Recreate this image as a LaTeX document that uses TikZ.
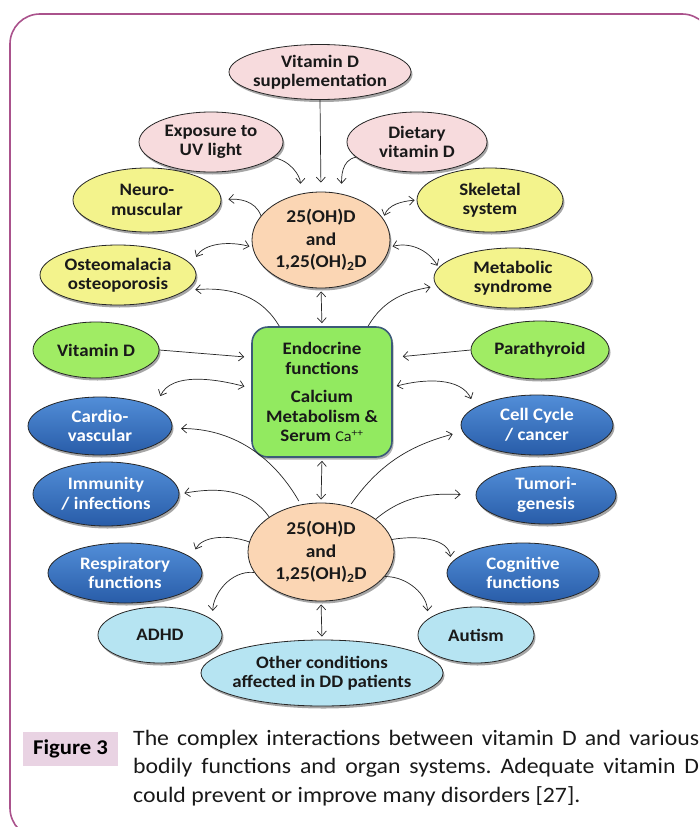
\documentclass[tikz,border=0pt]{standalone}
\usepackage{fontspec}
\setmainfont[FakeStretch=1.08]{Carlito}
\usetikzlibrary{shapes.geometric,arrows.meta,shadows}
\definecolor{pinkf}{RGB}{247,219,221}
\definecolor{yellowf}{RGB}{243,243,140}
\definecolor{peachf}{RGB}{251,214,180}
\definecolor{greenb}{RGB}{146,234,96}
\definecolor{greene}{RGB}{160,236,100}
\definecolor{bluet}{RGB}{82,142,216}
\definecolor{blueb}{RGB}{40,92,168}
\definecolor{lbluef}{RGB}{182,228,242}
\definecolor{boxline}{RGB}{60,90,120}
\definecolor{framec}{RGB}{170,82,140}
\definecolor{figbox}{RGB}{233,211,227}
\frenchspacing
\begin{document}
\begin{tikzpicture}[x=1pt,y=-1pt,
  ell/.style={ellipse, draw=black!85, line width=0.8pt, inner sep=0pt,
    drop shadow={shadow xshift=1.5pt,shadow yshift=-2.5pt,opacity=.35,fill=black}},
  txt/.style={align=center, inner sep=0pt, text=black!90,
    font=\bfseries\fontsize{17.5}{19.5}\selectfont},
  wtxt/.style={txt, text=white},
  ctxt/.style={txt, font=\bfseries\fontsize{18}{22.5}\selectfont},
  pinkn/.style={ell, fill=pinkf},
  yelln/.style={ell, fill=yellowf},
  peachn/.style={ell, fill=peachf},
  greenn/.style={ell, fill=greene},
  bluen/.style={ell, top color=bluet, bottom color=blueb, draw=black!85},
  lbluen/.style={ell, fill=lbluef},
  arr/.style={line width=0.7pt, black!85, -{Straight Barb[length=5pt,width=9pt]}},
  darr/.style={line width=0.7pt, black!85, {Straight Barb[length=5pt,width=9pt]}-{Straight Barb[length=5pt,width=9pt]}}
]
\useasboundingbox (0,0) rectangle (699,827);
\fill[white] (0,0) rectangle (699,827);
\begin{scope}
\clip (0,0) rectangle (699,827);
\draw[framec, line width=1.6pt, rounded corners=30pt] (10,14) rectangle (712,838);
\end{scope}

% nodes
\node[pinkn, minimum width=182, minimum height=55] (supp) at (320,72) {};
\node[txt] (supp-t) at (supp) {Vitamin D\\supplementation};
\node[pinkn, minimum width=144, minimum height=60] (uv) at (211,142) {};
\node[txt] (uv-t) at (uv) {Exposure to\\UV light};
\node[pinkn, minimum width=140, minimum height=60] (diet) at (417,142) {};
\node[txt] (diet-t) at (diet) {Dietary\\vitamin D};
\node[yelln, minimum width=148, minimum height=64] (neuro) at (147,200) {};
\node[txt] (neuro-t) at (neuro) {Neuro-\\muscular};
\node[yelln, minimum width=146, minimum height=64] (skel) at (490,200) {};
\node[txt] (skel-t) at (skel) {Skeletal\\system};
\node[peachn, minimum width=138, minimum height=96] (c1) at (321,240) {};
\node[ctxt] (c1-t) at (c1) {25(OH)D\\and\\1,25(OH)\textsubscript{2}D};
\node[yelln, minimum width=156, minimum height=60] (osteo) at (118,275) {};
\node[txt] (osteo-t) at (osteo) {Osteomalacia\\osteoporosis};
\node[yelln, minimum width=158, minimum height=60] (met) at (513,278) {};
\node[txt] (met-t) at (met) {Metabolic\\syndrome};

\node[rectangle, rounded corners=16pt, draw=boxline, line width=1.6pt, fill=greenb,
  minimum width=140, minimum height=130, inner sep=0pt,
  drop shadow={shadow xshift=1.5pt,shadow yshift=-2.5pt,opacity=.3,fill=black}] (box) at (322,392) {};
\node[txt] (box-t) at (box) {Endocrine\\functions\\[9pt]Calcium\\Metabolism \&\\Serum {\mdseries\fontsize{15}{15}\selectfont Ca\textsuperscript{++}}};

\node[greenn, minimum width=126, minimum height=56] (vd) at (96,350) {};
\node[txt] (vd-t) at (vd) {Vitamin D};
\node[greenn, minimum width=138, minimum height=58] (pt) at (540,350) {};
\node[txt] (pt-t) at (pt) {Parathyroid};

\node[bluen, minimum width=144, minimum height=58] (cardio) at (100,426) {};
\node[wtxt] (cardio-t) at (cardio) {Cardio-\\vascular};
\node[bluen, minimum width=152, minimum height=60] (cell) at (537,425) {};
\node[wtxt] (cell-t) at (cell) {Cell Cycle\\/ cancer};
\node[bluen, minimum width=146, minimum height=64] (imm) at (106,494) {};
\node[wtxt] (imm-t) at (imm) {Immunity\\/ infections};
\node[bluen, minimum width=140, minimum height=58] (tum) at (546,495) {};
\node[wtxt] (tum-t) at (tum) {Tumori-\\genesis};

\node[peachn, minimum width=146, minimum height=98] (c2) at (321,552) {};
\node[ctxt] (c2-t) at (c2) {25(OH)D\\and\\1,25(OH)\textsubscript{2}D};

\node[bluen, minimum width=154, minimum height=60] (resp) at (125,573) {};
\node[wtxt] (resp-t) at (resp) {Respiratory\\functions};
\node[bluen, minimum width=152, minimum height=60] (cog) at (523,573) {};
\node[wtxt] (cog-t) at (cog) {Cognitive\\functions};
\node[lbluen, minimum width=124, minimum height=56] (adhd) at (160,635) {};
\node[txt] (adhd-t) at (adhd) {ADHD};
\node[lbluen, minimum width=116, minimum height=56] (aut) at (476,635) {};
\node[txt] (aut-t) at (aut) {Autism};
\node[lbluen, minimum width=242, minimum height=66] (other) at (322,673) {};
\node[txt] (other-t) at (other) {Other conditions\\affected in DD patients};

% connectors
\draw[arr, shorten >=9pt] (supp.south) -- (c1.north);
\draw[arr, shorten >=10pt] (uv.-14) to[out=-10,in=90] (c1.114);
\draw[arr, shorten >=10pt] (diet.194) to[out=190,in=90] (c1.66);
\draw[arr, shorten >=7pt] (c1.158) to[out=110,in=5] (neuro.0);
\draw[darr, shorten <=3pt, shorten >=2pt] (c1.19) to[out=70,in=185] (skel.180);
\draw[darr, shorten <=3pt, shorten >=9pt] (c1.186) to[out=165,in=60] (osteo.8);
\draw[darr, shorten <=3pt, shorten >=2pt] (c1.-6) to[out=15,in=120] (met.172);
\draw[darr, shorten <=3pt, shorten >=3pt] (c1.south) -- (box.north);
\draw[arr, shorten >=10pt] (box.123) to[out=120,in=5] (osteo.-13);
\draw[arr, shorten >=6pt] (box.55) to[out=60,in=190] (met.186);
\draw[arr, shorten >=7pt] (vd.east) -- (box.154);
\draw[arr, shorten >=10pt] (pt.west) -- (box.26);
\draw[darr, shorten <=7pt, shorten >=12pt] (box.177) to[out=165,in=65] (cardio.19);
\draw[darr, shorten <=4pt, shorten >=9pt] (box.4) to[out=15,in=115] (cell.164);
\draw[arr, shorten <=4pt, shorten >=9pt] (c2.113) to[out=120,in=0] (cardio.-2);
\draw[arr, shorten <=3pt, shorten >=10pt] (c2.58) to[out=55,in=195] (cell.185);
\draw[darr, shorten <=3pt, shorten >=3pt] (box.south) -- (c2.north);
\draw[arr, shorten >=5pt] (c2.146) to[out=125,in=10] (imm.0);
\draw[arr, shorten >=15pt] (c2.31) to[out=40,in=178] (tum.180);
\draw[arr, shorten >=9pt] (c2.172) to[out=160,in=65] (resp.13);
\draw[arr, shorten >=6pt] (c2.10) to[out=10,in=95] (cog.172);
\draw[arr, shorten >=9pt] (c2.197) to[out=175,in=90] (adhd.16);
\draw[arr, shorten >=8pt] (c2.-21) to[out=0,in=90] (aut.162);
\draw[darr, shorten <=3pt, shorten >=3pt] (c2.south) -- (other.north);

% caption
\node[fill=figbox, minimum width=95, minimum height=34, inner sep=0pt,
  font=\bfseries\fontsize{21}{23}\selectfont] (fig) at (70.5,749) {Figure 3};
\node[anchor=north west, text width=566pt, align=justify, inner sep=0pt, text=black!90,
  font=\fontsize{22}{28.5}\selectfont] (cap) at (133,730)
  {The complex interactions between vitamin D and various\linebreak bodily functions and organ systems. Adequate vitamin D\linebreak could prevent or improve many disorders [27].};
\end{tikzpicture}
\end{document}
